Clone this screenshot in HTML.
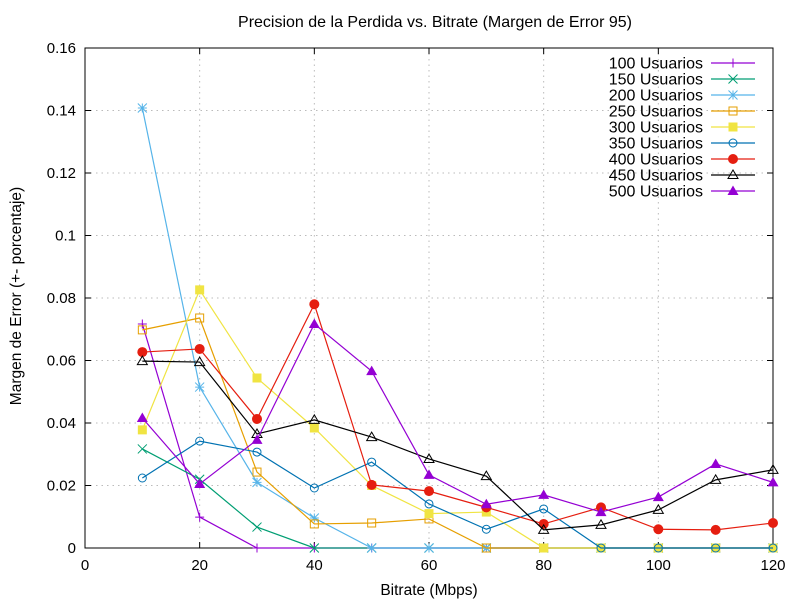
<!DOCTYPE html>
<html><head><meta charset="utf-8"><style>
body{margin:0;background:#fff}
svg{font-family:"Liberation Sans",sans-serif;font-size:15px}
</style></head><body>
<svg id="chart" width="800" height="600"></svg>
<script>
const xs=[10,20,30,40,50,60,70,80,90,100,110,120];
const seriesNames=["100 Usuarios","150 Usuarios","200 Usuarios","250 Usuarios","300 Usuarios","350 Usuarios","400 Usuarios","450 Usuarios","500 Usuarios"];
const s100=[0.0717,0.0099,0,0,0,0,0,0,0,0,0,0];
const s150=[0.0317,0.022,0.0067,0,0,0,0,0,0,0,0,0];
const s200=[0.1408,0.0515,0.021,0.0096,0,0,0,0,0,0,0,0];
const s250=[0.0698,0.0736,0.0243,0.0077,0.008,0.0093,0,0,0,0,0,0];
const s300=[0.0378,0.0826,0.0544,0.0384,0.020,0.011,0.0115,0,0,0,0,0];
const s350=[0.0224,0.0342,0.0307,0.0192,0.0275,0.0141,0.006,0.0125,0,0,0,0];
const s400=[0.0627,0.0637,0.0413,0.078,0.0202,0.0182,0.013,0.0077,0.013,0.006,0.0058,0.008];
const s450=[0.0598,0.0595,0.0365,0.041,0.0355,0.0285,0.023,0.0058,0.0074,0.0122,0.0218,0.025];
const s500=[0.0416,0.0205,0.0346,0.0717,0.0566,0.0234,0.014,0.017,0.0115,0.0163,0.0269,0.021];
const xTicks=[0,20,40,60,80,100,120];
const yTicks=[0,0.02,0.04,0.06,0.08,0.1,0.12,0.14,0.16];
const yTickLabels=["0","0.02","0.04","0.06","0.08","0.1","0.12","0.14","0.16"];

const allSeries=[s100,s150,s200,s250,s300,s350,s400,s450,s500];
const colors=["#9400d3","#009e73","#56b4e9","#e69f00","#f0e442","#0072b2","#e51e10","#000000","#9400d3"];
const markers=["plus","cross","star","sqo","sqf","cio","cif","tro","trf"];
const L=85,R=773,T=48,B=548;
const X=v=>L+(v-0)/(120-0)*(R-L);
const Y=v=>B-(v-0)/(0.16-0)*(B-T);
const svg=document.getElementById('chart');
const NS="http://www.w3.org/2000/svg";
function mk(tag,attrs,parent){const e=document.createElementNS(NS,tag);for(const k in attrs)e.setAttribute(k,attrs[k]);(parent||svg).appendChild(e);return e;}

const grid=mk('g',{});


xTicks.forEach(t=>{if(t>0&&t<120)mk('line',{x1:X(t),x2:X(t),y1:T,y2:B,stroke:'#bbb','stroke-dasharray':'1.5,4'},grid);});
yTicks.forEach(t=>{if(t>0&&t<0.16)mk('line',{x1:L,x2:R,y1:Y(t),y2:Y(t),stroke:'#bbb','stroke-dasharray':'1.5,4'},grid);});

const ax=mk('g',{});


mk('rect',{x:L,y:T,width:R-L,height:B-T,fill:'none',stroke:'#000'},ax);
xTicks.forEach(t=>{
  mk('line',{x1:X(t),x2:X(t),y1:B,y2:B-6,stroke:'#000'},ax);
  mk('line',{x1:X(t),x2:X(t),y1:T,y2:T+6,stroke:'#000'},ax);
  const tx=mk('text',{x:X(t),y:B+22,'text-anchor':'middle'},ax);tx.textContent=t;
  
  
});
yTicks.forEach((t,i)=>{
  mk('line',{x1:L,x2:L+6,y1:Y(t),y2:Y(t),stroke:'#000'},ax);
  mk('line',{x1:R,x2:R-6,y1:Y(t),y2:Y(t),stroke:'#000'},ax);
  const tx=mk('text',{x:L-9,y:Y(t)+5,'text-anchor':'end'},ax);tx.textContent=yTickLabels[i];
  
  
});
let t1=mk('text',{x:435,y:27,'text-anchor':'middle','font-size':'16'});t1.textContent="Precision de la Perdida vs. Bitrate (Margen de Error 95)";


let t2=mk('text',{x:429,y:595,'text-anchor':'middle','font-size':'15.5'});t2.textContent="Bitrate (Mbps)";


let t3=mk('text',{x:21,y:296,'text-anchor':'middle','font-size':'15.5',transform:'rotate(-90 21 296)'});t3.textContent="Margen de Error (+- porcentaje)";



function marker(type,x,y,c,g){
  const s=4.5;
  switch(type){
    case 'plus':mk('path',{d:`M${x-s} ${y}H${x+s}M${x} ${y-s}V${y+s}`,stroke:c,fill:'none'},g);break;
    case 'cross':mk('path',{d:`M${x-s} ${y-s}L${x+s} ${y+s}M${x-s} ${y+s}L${x+s} ${y-s}`,stroke:c,fill:'none'},g);break;
    case 'star':mk('path',{d:`M${x-s} ${y}H${x+s}M${x} ${y-s}V${y+s}M${x-s} ${y-s}L${x+s} ${y+s}M${x-s} ${y+s}L${x+s} ${y-s}`,stroke:c,fill:'none'},g);break;
    case 'sqo':mk('rect',{x:x-4,y:y-4,width:8,height:8,stroke:c,fill:'none'},g);break;
    case 'sqf':mk('rect',{x:x-4.5,y:y-4.5,width:9,height:9,fill:c},g);break;
    case 'cio':mk('circle',{cx:x,cy:y,r:4,stroke:c,fill:'none'},g);break;
    case 'cif':mk('circle',{cx:x,cy:y,r:5,fill:c},g);break;
    case 'tro':mk('path',{d:`M${x-5} ${y+3.5}L${x+5} ${y+3.5}L${x} ${y-5}Z`,stroke:c,fill:'none'},g);break;
    case 'trf':mk('path',{d:`M${x-5.5} ${y+4}L${x+5.5} ${y+4}L${x} ${y-5.5}Z`,fill:c},g);break;
  }
}
allSeries.forEach((s,i)=>{
  const g=mk('g',{});
  
  
  mk('polyline',{points:s.map((v,j)=>X(xs[j])+','+Y(v)).join(' '),fill:'none',stroke:colors[i],'stroke-width':1.2},g);
  s.forEach((v,j)=>marker(markers[i],X(xs[j]),Y(v),colors[i],g));
  const ly=63+i*16;
  const lg=mk('g',{},g);
  
  
  const tx=mk('text',{x:703,y:ly+5.5,'text-anchor':'end','font-size':'16'},lg);tx.textContent=seriesNames[i];
  mk('line',{x1:711,x2:755,y1:ly,y2:ly,stroke:colors[i],'stroke-width':1.2},lg);
  marker(markers[i],733,ly,colors[i],lg);
});
</script>
</body></html>
